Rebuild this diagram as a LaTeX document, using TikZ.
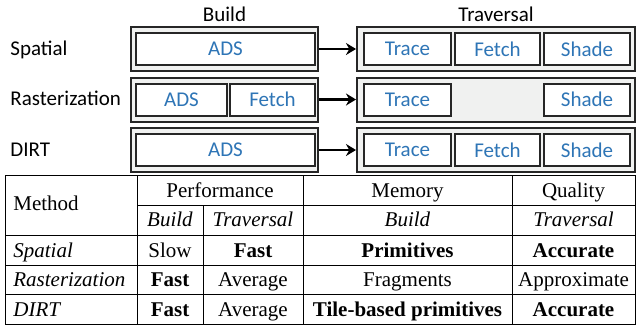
\documentclass[tikz,border=0pt]{standalone}
\usepackage{fontspec}
\setmainfont{Liberation Serif}
\newfontfamily\calfont{Carlito}
\usepackage{xcolor}
\usepackage{tikz}
\usetikzlibrary{positioning}
\usetikzlibrary{arrows.meta}
\definecolor{stageblue}{HTML}{2E75B6}
\definecolor{panelgray}{HTML}{F0F1F0}
\tikzset{
    head/.style = {font=\calfont\fontsize{10.5}{12}\selectfont, inner sep=0},
    rowname/.style = {anchor=base west, font=\calfont\fontsize{10.5}{12}\selectfont, inner sep=0},
    panel/.style = {draw=black!85, fill=panelgray, line width=1pt, inner sep=0, minimum height=22pt},
    stage/.style = {draw=black!85, fill=white, line width=1pt, inner sep=0, minimum height=16pt,
        text=stageblue, font=\calfont\fontsize{10.5}{12}\selectfont},
    flow/.style = {line width=1.3pt, -{Stealth[length=5pt,width=6pt]}},
    grid/.style = {line width=0.5pt},
    cell/.style = {anchor=base, font=\fontsize{10.5}{12}\selectfont, inner sep=0},
    method/.style = {cell, anchor=base west}
}
\begin{document}
\begin{tikzpicture}[x=0.5pt,y=-0.5pt]
    \useasboundingbox (0,0) rectangle (637,327);
    % pipeline
    \node[head](build) at (224.5,14) {Build};
    \node[head](trav) at (496,14) {Traversal};

    \node[rowname](spatial) at (10,55) {Spatial};
    \node[panel,minimum width=93.5pt](s-b) at (224.5,49) {};
    \node[panel,minimum width=139pt](s-t) at (496,49) {};
    \node[stage,minimum width=89.5pt](s-ads) at (225.5,49) {ADS};
    \node[stage,minimum width=43.5pt](s-trace) at (407.5,49) {Trace};
    \node[stage,minimum width=42.5pt](s-fetch) at (497.5,49) {Fetch};
    \node[stage,minimum width=43pt](s-shade) at (587,49) {Shade};
    \draw[flow](s-b)--(s-t);

    \node[rowname](raster) at (10,105.5) {Rasterization};
    \node[panel,minimum width=93.5pt](r-b) at (224.5,99.5) {};
    \node[panel,minimum width=139pt](r-t) at (496,99.5) {};
    \node[stage,minimum width=45.5pt](r-ads) at (181.5,99.5) {ADS};
    \node[stage,minimum width=42.5pt](r-fetch) at (272.5,99.5) {Fetch};
    \node[stage,minimum width=43.5pt](r-trace) at (407.5,99.5) {Trace};
    \node[stage,minimum width=43pt](r-shade) at (587,99.5) {Shade};
    \draw[flow](r-b)--(r-t);

    \node[rowname](dirt) at (10,156) {DIRT};
    \node[panel,minimum width=93.5pt](d-b) at (224.5,150) {};
    \node[panel,minimum width=139pt](d-t) at (496,150) {};
    \node[stage,minimum width=89.5pt](d-ads) at (225.5,150) {ADS};
    \node[stage,minimum width=43.5pt](d-trace) at (407.5,150) {Trace};
    \node[stage,minimum width=42.5pt](d-fetch) at (497.5,150) {Fetch};
    \node[stage,minimum width=43pt](d-shade) at (587,150) {Shade};
    \draw[flow](d-b)--(d-t);

    % table
    \draw[grid] (5,175) rectangle (635,324);
    \draw[grid] (137,205)--(635,205);
    \foreach \y in {235,265,294}
        \draw[grid] (5,\y)--(635,\y);
    \foreach \x in {137,303,512}
        \draw[grid] (\x,175)--(\x,324);
    \draw[grid] (203,205)--(203,324);

    \node[method](t-method) at (13,210) {Method};
    \node[cell](t-perf) at (220,197) {Performance};
    \node[cell](t-mem) at (407.5,197) {Memory};
    \node[cell](t-qual) at (573.5,197) {Quality};
    \node[cell](t-pb) at (170,226) {\textit{Build}};
    \node[cell](t-pt) at (253,226) {\textit{Traversal}};
    \node[cell](t-mb) at (407.5,226) {\textit{Build}};
    \node[cell](t-qt) at (573.5,226) {\textit{Traversal}};

    \node[method](t-s) at (13,257) {\textit{Spatial}};
    \node[cell](t-s1) at (170,257) {Slow};
    \node[cell](t-s2) at (253,257) {\textbf{Fast}};
    \node[cell](t-s3) at (407.5,257) {\textbf{Primitives}};
    \node[cell](t-s4) at (573.5,257) {\textbf{Accurate}};

    \node[method](t-r) at (13,286) {\textit{Rasterization}};
    \node[cell](t-r1) at (170,286) {\textbf{Fast}};
    \node[cell](t-r2) at (253,286) {Average};
    \node[cell](t-r3) at (407.5,286) {Fragments};
    \node[cell](t-r4) at (573.5,286) {Approximate};

    \node[method](t-d) at (13,316) {\textit{DIRT}};
    \node[cell](t-d1) at (170,316) {\textbf{Fast}};
    \node[cell](t-d2) at (253,316) {Average};
    \node[cell](t-d3) at (407.5,316) {\textbf{Tile-based primitives}};
    \node[cell](t-d4) at (573.5,316) {\textbf{Accurate}};
\end{tikzpicture}
\end{document}
